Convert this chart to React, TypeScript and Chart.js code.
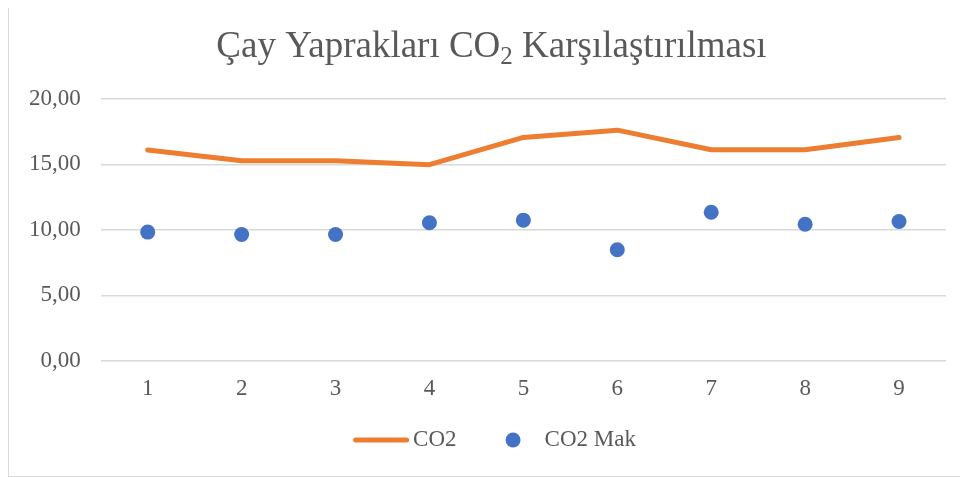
import React, { useEffect, useRef } from 'react';
import { Chart, registerables } from 'chart.js';

Chart.register(...registerables);

const categories: string[] = ['1', '2', '3', '4', '5', '6', '7', '8', '9'];
const co2Values: number[] = [16.1, 15.28, 15.28, 14.98, 17.06, 17.62, 16.12, 16.12, 17.06];
const co2MakValues: number[] = [9.83, 9.65, 9.65, 10.54, 10.74, 8.48, 11.35, 10.43, 10.64];
const seriesNames: string[] = ['CO2', 'CO2 Mak'];
const titleParts: string[] = ['Çay Yaprakları CO', '2', ' Karşılaştırılması'];
const yMin = 0;
const yMax = 20;
const yStep = 5;

const ORANGE = '#ED7D31';
const BLUE = '#4472C4';
const TEXT = '#595959';
const GRID = '#d9d9d9';
const FONT = '"Liberation Serif", "Times New Roman", serif';

const titlePlugin = {
  id: 'subTitle',
  afterDraw(chart: any) {
    const ctx = chart.ctx as CanvasRenderingContext2D;
    ctx.save();
    const mainFont = `37px ${FONT}`;
    const subFont = `25px ${FONT}`;
    ctx.font = mainFont;
    const w1 = ctx.measureText(titleParts[0]).width;
    const w3 = ctx.measureText(titleParts[2]).width;
    ctx.font = subFont;
    const w2 = ctx.measureText(titleParts[1]).width;
    const total = w1 + w2 + w3;
    let x = chart.width / 2 + 3 - total / 2;
    const baseline = 53;
    ctx.fillStyle = TEXT;
    ctx.textBaseline = 'alphabetic';
    ctx.textAlign = 'left';
    ctx.font = mainFont;
    ctx.fillText(titleParts[0], x, baseline);
    x += w1;
    ctx.font = subFont;
    ctx.fillText(titleParts[1], x, baseline + 7);
    x += w2;
    ctx.font = mainFont;
    ctx.fillText(titleParts[2], x, baseline);
    ctx.restore();
  },
};

const legendPlugin = {
  id: 'customLegend',
  afterDraw(chart: any) {
    const ctx = chart.ctx as CanvasRenderingContext2D;
    ctx.save();
    ctx.font = `23px ${FONT}`;
    const t1 = ctx.measureText(seriesNames[0]).width;
    const t2 = ctx.measureText(seriesNames[1]).width;
    const lineLen = 56;
    const gapA = 4;
    const gapB = 49;
    const dotR = 7.5;
    const gapC = 24;
    const total = lineLen + gapA + t1 + gapB + 2 * dotR + gapC + t2;
    let x = chart.width / 2 + 6 - total / 2;
    const y = chart.height - 36;
    ctx.strokeStyle = ORANGE;
    ctx.lineWidth = 5;
    ctx.lineCap = 'round';
    ctx.beginPath();
    ctx.moveTo(x + 2.5, y);
    ctx.lineTo(x + lineLen - 2.5, y);
    ctx.stroke();
    x += lineLen + gapA;
    ctx.fillStyle = TEXT;
    ctx.textBaseline = 'middle';
    ctx.textAlign = 'left';
    ctx.fillText(seriesNames[0], x, y);
    x += t1 + gapB;
    ctx.fillStyle = BLUE;
    ctx.beginPath();
    ctx.arc(x + dotR, y, dotR, 0, Math.PI * 2);
    ctx.fill();
    x += 2 * dotR + gapC;
    ctx.fillStyle = TEXT;
    ctx.fillText(seriesNames[1], x, y);
    ctx.restore();
  },
};

export default function App() {
  const ref = useRef<HTMLCanvasElement | null>(null);

  useEffect(() => {
    if (!ref.current) return;
    const chart = new Chart(ref.current, {
      type: 'line',
      data: {
        labels: categories,
        datasets: [
          {
            label: seriesNames[0],
            data: co2Values,
            borderColor: ORANGE,
            backgroundColor: ORANGE,
            borderWidth: 5,
            borderCapStyle: 'round',
            borderJoinStyle: 'round',
            pointRadius: 0,
            tension: 0,
          },
          {
            label: seriesNames[1],
            data: co2MakValues,
            showLine: false,
            borderColor: BLUE,
            backgroundColor: BLUE,
            pointBackgroundColor: BLUE,
            pointBorderWidth: 0,
            pointRadius: 7.5,
          },
        ],
      },
      options: {
        responsive: false,
        animation: false,
        layout: { padding: { top: 95, left: 0, right: 22, bottom: 58.7 } },
        plugins: {
          title: { display: false },
          tooltip: { enabled: false },
          legend: { display: false },
        },
        scales: {
          x: {
            offset: true,
            grid: { display: false, drawTicks: false },
            border: { display: false },
            ticks: { color: TEXT, font: { family: FONT, size: 23 }, padding: 14.5 },
          },
          y: {
            min: yMin,
            max: yMax,
            grid: { color: GRID, lineWidth: 1.5, drawTicks: false },
            border: { display: false },
            ticks: {
              stepSize: yStep,
              color: TEXT,
              padding: 20,
              font: { family: FONT, size: 23 },
              callback: (v: any) => Number(v).toFixed(2).replace('.', ','),
            },
          },
        },
      },
      plugins: [titlePlugin, legendPlugin],
    });
    return () => chart.destroy();
  }, []);

  return (
    <div
      style={{
        marginTop: -5,
        width: 960,
        height: 474,
        boxSizing: 'border-box',
        borderLeft: '1px solid #d9d9d9',
        borderTop: '1px solid #d9d9d9',
        borderBottom: '1px solid #d9d9d9',
        background: '#fff',
      }}
    >
      <canvas ref={ref} width={959} height={472} style={{ display: 'block' }} />
    </div>
  );
}
